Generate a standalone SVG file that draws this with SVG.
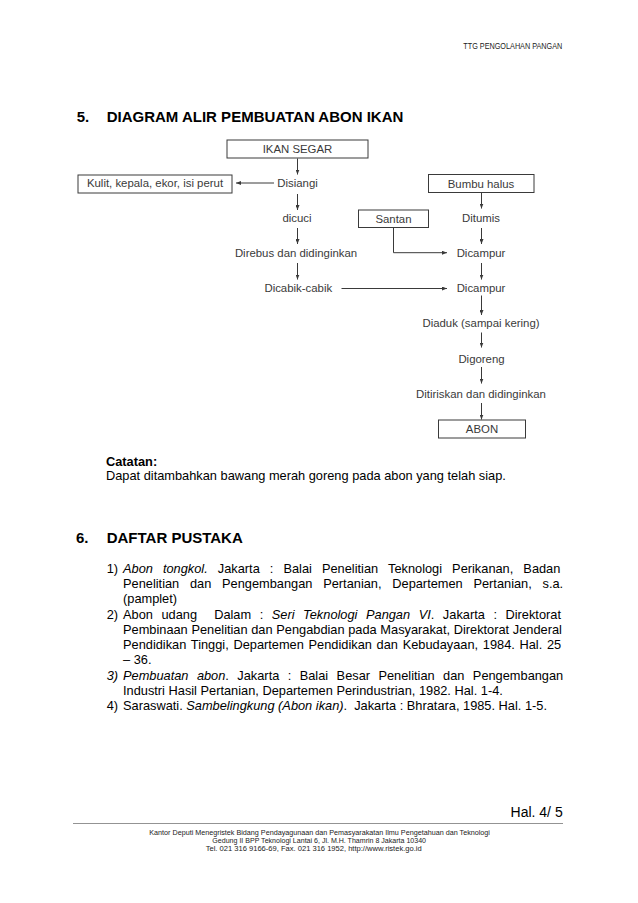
<svg xmlns="http://www.w3.org/2000/svg" width="638" height="903" viewBox="0 0 638 903">
<style>
text{font-family:"Liberation Sans",Arial,sans-serif}
.hdr{font-size:8.5px;fill:#222}
.h1{font-size:15px;font-weight:bold;fill:#000}
.fc{font-size:11.4px;fill:#3a3a3a;text-anchor:middle}
.box{fill:#fff;stroke:#3a3a3a;stroke-width:1}
.cn{stroke:#3a3a3a;stroke-width:1;fill:none;marker-end:url(#ah)}
.bd{font-size:12.8px;fill:#000}
.it{font-style:italic}
.ft{font-size:8px;fill:#222;text-anchor:middle}
</style>
<defs>
<marker id="ah" viewBox="0 0 10 8" refX="10" refY="4" markerWidth="5" markerHeight="4" markerUnits="userSpaceOnUse" orient="auto">
<path d="M0,0 L10,4 L0,8 z" fill="#3a3a3a"/>
</marker>
</defs>
<rect width="638" height="903" fill="#fff"/>

<text class="hdr" x="463.3" y="48.5" textLength="99" lengthAdjust="spacingAndGlyphs">TTG PENGOLAHAN PANGAN</text>

<text class="h1" x="76.7" y="121.7">5.</text>
<text class="h1" x="106.7" y="121.7">DIAGRAM ALIR PEMBUATAN ABON IKAN</text>

<g id="connectors">
<path class="cn" d="M297.5,158.5 V174.5"/>
<path class="cn" d="M274,183 H236"/>
<path class="cn" d="M297.5,194 V210"/>
<path class="cn" d="M297.5,228 V244"/>
<path class="cn" d="M297.5,263 V279.5"/>
<path class="cn" d="M341.5,288.5 H447"/>
<path class="cn" d="M481.5,192.5 V208.5"/>
<path class="cn" d="M393.5,227.5 V252.7 H447"/>
<path class="cn" d="M481.5,228 V244"/>
<path class="cn" d="M481.5,263 V279.5"/>
<path class="cn" d="M481.5,295.5 V315"/>
<path class="cn" d="M481.5,332.5 V347.5"/>
<path class="cn" d="M481.5,367 V383.5"/>
<path class="cn" d="M481.5,403 V419.5"/>
</g>

<g id="ikan-segar"><rect class="box" x="227" y="140" width="141" height="18"/><text class="fc" x="297.5" y="152.5">IKAN SEGAR</text></g>
<g id="disiangi"><text class="fc" x="297.5" y="187">Disiangi</text></g>
<g id="kulit"><rect class="box" x="78" y="175" width="154" height="18"/><text class="fc" x="155" y="187">Kulit, kepala, ekor, isi perut</text></g>
<g id="dicuci"><text class="fc" x="297" y="221.5">dicuci</text></g>
<g id="direbus"><text class="fc" x="296" y="256.5">Direbus dan didinginkan</text></g>
<g id="dicabik"><text class="fc" x="298.3" y="292">Dicabik-cabik</text></g>
<g id="bumbu"><rect class="box" x="428.5" y="174.5" width="105.5" height="18"/><text class="fc" x="481" y="187.5">Bumbu halus</text></g>
<g id="santan"><rect class="box" x="358.5" y="210" width="70" height="17.5"/><text class="fc" x="393.5" y="222.5">Santan</text></g>
<g id="ditumis"><text class="fc" x="481" y="221.5">Ditumis</text></g>
<g id="dicampur1"><text class="fc" x="481" y="256.5">Dicampur</text></g>
<g id="dicampur2"><text class="fc" x="481" y="292">Dicampur</text></g>
<g id="diaduk"><text class="fc" x="481" y="327">Diaduk (sampai kering)</text></g>
<g id="digoreng"><text class="fc" x="481.5" y="363">Digoreng</text></g>
<g id="ditiriskan"><text class="fc" x="481" y="398">Ditiriskan dan didinginkan</text></g>
<g id="abon"><rect class="box" x="438.5" y="420" width="87" height="18"/><text class="fc" x="482" y="433">ABON</text></g>

<text class="bd" x="106" y="466" font-weight="bold">Catatan:</text>
<text class="bd" x="106" y="480">Dapat ditambahkan bawang merah goreng pada abon yang telah siap.</text>

<text class="h1" x="76" y="542.7">6.</text>
<text class="h1" x="106.7" y="542.7">DAFTAR PUSTAKA</text>

<text class="bd" x="106.7" y="572.5">1)</text>
<text class="bd" x="123" y="572.5" word-spacing="6.5"><tspan class="it">Abon tongkol.</tspan> Jakarta : Balai Penelitian Teknologi Perikanan, Badan</text>
<text class="bd" x="123" y="587.5" word-spacing="7.2">Penelitian dan Pengembangan Pertanian, Departemen Pertanian, s.a.</text>
<text class="bd" x="123" y="602.5">(pamplet)</text>
<text class="bd" x="106.7" y="618.5">2)</text>
<text class="bd" x="123" y="618.5" word-spacing="5" xml:space="preserve">Abon udang  Dalam : <tspan class="it">Seri Teknologi Pangan VI</tspan>. Jakarta : Direktorat</text>
<text class="bd" x="123" y="633.5" word-spacing="0.1">Pembinaan Penelitian dan Pengabdian pada Masyarakat, Direktorat Jenderal</text>
<text class="bd" x="123" y="648.5" word-spacing="1.15">Pendidikan Tinggi, Departemen Pendidikan dan Kebudayaan, 1984. Hal. 25</text>
<text class="bd" x="123" y="663.5">– 36.</text>
<text class="bd it" x="106.7" y="679.5">3)</text>
<text class="bd" x="123" y="679.5" word-spacing="4.87"><tspan class="it">Pembuatan abon</tspan>. Jakarta : Balai Besar Penelitian dan Pengembangan</text>
<text class="bd" x="123" y="694.5">Industri Hasil Pertanian, Departemen Perindustrian, 1982. Hal. 1-4.</text>
<text class="bd" x="106.7" y="710">4)</text>
<text class="bd" x="123" y="710" xml:space="preserve">Saraswati. <tspan class="it">Sambelingkung (Abon ikan)</tspan>.  Jakarta : Bhratara, 1985. Hal. 1-5.</text>

<text x="562.7" y="817" font-size="14" text-anchor="end" fill="#000">Hal. 4/ 5</text>
<line x1="73" y1="823.5" x2="563" y2="823.5" stroke="#777" stroke-width="0.8"/>
<text class="ft" x="319.6" y="835.3" textLength="340.7" lengthAdjust="spacingAndGlyphs">Kantor Deputi Menegristek Bidang Pendayagunaan dan Pemasyarakatan Ilmu Pengetahuan dan Teknologi</text>
<text class="ft" x="319.2" y="843.3" textLength="213.7" lengthAdjust="spacingAndGlyphs">Gedung II BPP Teknologi Lantai 6, Jl. M.H. Thamrin 8 Jakarta 10340</text>
<text class="ft" x="313.7" y="851" textLength="216" lengthAdjust="spacingAndGlyphs">Tel. 021 316 9166-69, Fax. 021 316 1952, http://www.ristek.go.id</text>
</svg>
